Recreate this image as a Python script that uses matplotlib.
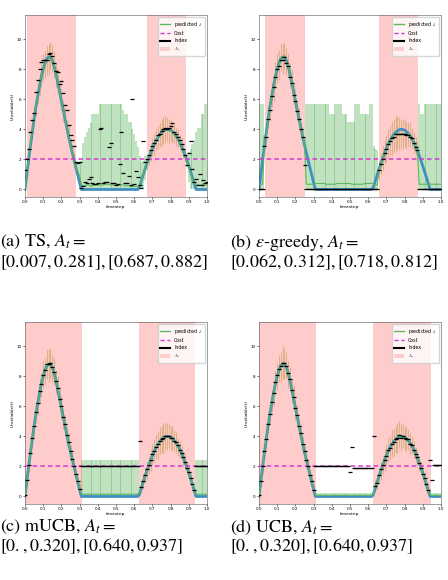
import numpy as np
import matplotlib
matplotlib.use("Agg")
import matplotlib.pyplot as plt
from matplotlib.lines import Line2D
from matplotlib.patches import Patch

plt.rcParams['mathtext.fontset'] = 'stix'

timesteps = np.linspace(0, 1, 101)
cost = 2.0

true_lambda = [0.0, 1.0, 2.0, 2.9, 3.8, 4.7, 5.5, 6.2, 6.9, 7.5,
               8.0, 8.4, 8.7, 8.8, 8.8, 8.6, 8.2, 7.7, 7.1, 6.5,
               5.9, 5.3, 4.7, 4.1, 3.5, 2.95, 2.45, 1.95, 1.45, 0.95,
               0.45, 0, 0, 0, 0, 0, 0, 0, 0, 0,
               0, 0, 0, 0, 0, 0, 0, 0, 0, 0,
               0, 0, 0, 0, 0, 0, 0, 0, 0, 0,
               0, 0, 0, 0.2, 0.6, 0.99, 1.37, 1.74, 2.08, 2.41,
               2.72, 3.0, 3.25, 3.46, 3.65, 3.79, 3.9, 3.97, 4.0, 3.99,
               3.94, 3.85, 3.72, 3.56, 3.36, 3.13, 2.86, 2.57, 2.26, 1.92,
               1.56, 1.18, 0.79, 0.4, 0, 0, 0, 0, 0, 0,
               0]

# (a) TS
spans_a = [(0.01, 0.281), (0.673, 0.882)]
pred_a = [0.1, 1.2, 2.1, 3.0, 3.9, 4.9, 5.6, 6.4, 7.0, 7.6,
          8.1, 8.3, 8.6, 8.7, 8.9, 8.7, 8.3, 7.6, 7.2, 6.4,
          6.0, 5.2, 4.8, 4.0, 3.6, 2.9, 2.5, 1.9, 1.5, 1.2,
          0.9, 0.3, 0.25, 0.25, 0.3, 0.3, 0.25, 0.25, 0.3, 0.3,
          0.3, 0.3, 0.3, 0.3, 0.35, 0.35, 0.35, 0.3, 0.3, 0.3,
          0.3, 0.3, 0.3, 0.3, 0.3, 0.25, 0.25, 0.25, 0.2, 0.2,
          0.2, 0.2, 0.2, 0.25, 0.6, 1.0, 1.4, 1.8, 2.1, 2.5,
          2.8, 3.0, 3.3, 3.5, 3.6, 3.8, 3.9, 4.0, 4.0, 3.9,
          3.9, 3.8, 3.7, 3.5, 3.4, 3.1, 2.9, 2.6, 2.3, 1.9,
          1.5, 1.1, 0.7, 0.4, 0.3, 0.3, 0.3, 0.3, 0.3, 0.3,
          0.3]
err_a = [0.3, 0.4, 0.5, 0.5, 0.6, 0.6, 0.7, 0.7, 0.8, 0.8,
         0.9, 0.9, 1.0, 1.0, 0.9, 0.9, 0.9, 0.8, 0.8, 0.8,
         0.7, 0.7, 0.6, 0.6, 0.6, 0.5, 0.5, 0.5, 0.4, 0.6,
         0.7, 1.6, 2.85, 3.25, 3.5, 3.8, 4.15, 4.75, 4.7, 4.7,
         4.7, 5.4, 5.4, 5.4, 5.35, 5.35, 5.35, 5.4, 5.4, 5.4,
         5.4, 5.4, 5.4, 5.4, 5.0, 4.75, 4.75, 4.25, 4.3, 3.8,
         3.5, 3.0, 2.6, 1.95, 1.2, 0.9, 0.8, 0.5, 0.5, 0.6,
         0.6, 0.7, 0.7, 0.8, 0.8, 0.9, 0.9, 0.9, 0.8, 0.8,
         0.7, 0.7, 0.6, 0.6, 0.6, 0.5, 0.5, 0.5, 0.4, 0.4,
         1.0, 1.6, 2.3, 2.9, 3.5, 3.8, 3.8, 4.7, 4.7, 5.4,
         5.4]
index_a = [1.3, 2.0, 2.7, 3.8, 4.6, 5.1, 6.5, 7.3, 8.0, 8.5,
           8.6, 8.6, 8.6, 9.0, 9.1, 8.9, 8.4, 7.9, 7.8, 7.0,
           7.2, 6.4, 5.6, 5.3, 4.3, 3.6, 3.3, 2.9, 1.8, 1.75,
           1.8, 0.1, 0.2, 0.5, 0.45, 0.7, 0.8, 0.4, 0.35, 0.35,
           0.45, 4.05, 4.1, 0.4, 0.5, 0.5, 2.8, 3.1, 0.45, 0.4,
           0.3, 0.35, 1.7, 3.8, 1.1, 0.45, 0.4, 0.9, 0.3, 6.0,
           0.35, 1.2, 0.8, 0.3, 0.1, 3.25, 1.8, 2.0, 2.3, 2.6,
           2.9, 3.1, 3.3, 3.6, 3.7, 3.9, 4.0, 4.1, 4.0, 4.1,
           4.2, 4.4, 3.8, 3.7, 3.5, 3.3, 3.0, 2.7, 2.3, 1.6,
           2.45, 3.25, 1.35, 0.5, 0.67, 0.3, 1.0, 0.33, 0.6, 0.4,
           0.5]

# (b) epsilon-greedy
spans_b = [(0.031, 0.253), (0.657, 0.875)]
pred_b = [0.35, 0.35, 0.35, 3.0, 3.6, 4.8, 5.4, 6.3, 6.8, 7.6,
          8.1, 8.3, 8.8, 8.7, 8.9, 8.5, 8.3, 7.6, 7.2, 6.4,
          6.0, 5.2, 4.8, 4.0, 3.6, 2.9, 0.35, 0.35, 0.35, 0.35,
          0.35, 0.4, 0.4, 0.4, 0.4, 0.4, 0.4, 0.35, 0.35, 0.35,
          0.35, 0.35, 0.35, 0.4, 0.4, 0.4, 0.4, 0.4, 0.4, 0.4,
          0.4, 0.35, 0.35, 0.35, 0.35, 0.35, 0.35, 0.35, 0.4, 0.4,
          0.4, 0.4, 0.4, 0.35, 0.3, 0.3, 1.3, 1.7, 2.1, 2.5,
          2.7, 3.0, 3.3, 3.4, 3.6, 3.7, 3.8, 3.7, 3.7, 3.7,
          3.7, 3.6, 3.7, 3.6, 3.4, 3.1, 2.9, 2.6, 0.35, 0.35,
          0.35, 0.35, 0.35, 0.35, 0.35, 0.35, 0.35, 0.35, 0.35, 0.35,
          0.35]
err_b = [5.35, 5.35, 5.35, 0.6, 0.7, 0.7, 0.8, 0.8, 0.9, 0.9,
         1.0, 1.0, 0.9, 1.0, 0.9, 0.9, 0.8, 0.8, 0.8, 0.7,
         0.7, 0.6, 0.6, 0.5, 0.5, 0.5, 5.35, 5.35, 5.35, 5.35,
         5.35, 5.3, 5.3, 5.3, 5.3, 5.3, 5.3, 5.35, 5.35, 4.65,
         4.65, 4.65, 5.35, 5.3, 5.3, 5.3, 4.6, 4.6, 4.6, 4.1,
         4.1, 4.15, 4.15, 5.35, 5.35, 5.35, 4.65, 4.65, 4.6, 4.6,
         4.6, 5.3, 5.3, 2.55, 2.4, 2.3, 0.6, 0.7, 0.8, 0.8,
         0.9, 1.0, 1.0, 1.1, 1.1, 1.2, 1.1, 1.1, 1.0, 1.0,
         0.9, 0.9, 0.8, 0.8, 0.7, 0.7, 0.6, 0.6, 5.35, 4.65,
         4.65, 5.35, 5.35, 5.35, 5.35, 5.35, 5.35, 5.35, 5.35, 5.35,
         5.35]
index_b = [0, 0, 0, 2.9, 3.5, 4.7, 5.3, 6.2, 6.8, 7.5,
           8.0, 8.2, 8.6, 8.6, 8.8, 8.4, 8.2, 7.5, 7.1, 6.3,
           5.9, 5.2, 4.7, 4.0, 3.5, 1.6, 0, 0, 0, 0,
           0, 0, 0, 0, 0, 0, 0, 0, 0, 0,
           0, 0, 0, 0, 0, 0, 0, 0, 0, 0,
           0, 0, 0, 0, 0, 0, 0, 0, 0, 0,
           0, 0, 0, 0, 0, 0, 1.3, 1.7, 2.0, 2.4,
           2.7, 3.0, 3.2, 3.4, 3.5, 3.7, 3.7, 3.7, 3.7, 3.7,
           3.7, 3.6, 3.6, 3.5, 3.4, 3.1, 2.8, 2.6, 0, 0,
           0, 0, 0, 0, 0, 0, 0, 0, 0, 0,
           0]

# (c) mUCB
spans_c = [(0.0, 0.312), (0.624, 0.936)]
pred_c = [0.1, 1.1, 2.1, 2.8, 3.9, 4.6, 5.6, 6.1, 7.0, 7.4,
          8.1, 8.3, 8.8, 8.7, 8.9, 8.5, 8.3, 7.6, 7.2, 6.4,
          6.0, 5.2, 4.8, 4.0, 3.6, 2.9, 2.5, 1.9, 1.5, 0.9,
          0.5, 0.15, 0.15, 0.15, 0.15, 0.15, 0.15, 0.15, 0.15, 0.15,
          0.15, 0.15, 0.15, 0.15, 0.15, 0.15, 0.15, 0.15, 0.15, 0.15,
          0.15, 0.15, 0.15, 0.15, 0.15, 0.15, 0.15, 0.15, 0.15, 0.15,
          0.15, 0.15, 0.15, 0.3, 0.6, 1.0, 1.4, 1.7, 2.1, 2.4,
          2.8, 3.0, 3.3, 3.4, 3.7, 3.8, 3.9, 4.0, 4.0, 4.0,
          3.9, 3.9, 3.7, 3.6, 3.3, 3.1, 2.9, 2.5, 2.3, 1.9,
          1.6, 1.2, 0.8, 0.4, 0.15, 0.15, 0.15, 0.15, 0.15, 0.15,
          0.15]
err_c = [0.3, 0.4, 0.5, 0.5, 0.6, 0.6, 0.7, 0.7, 0.8, 0.8,
         0.9, 0.9, 1.0, 1.1, 1.0, 0.9, 0.9, 0.8, 0.8, 0.8,
         0.7, 0.7, 0.6, 0.6, 0.6, 0.5, 0.5, 0.5, 0.4, 0.4,
         0.4, 2.25, 2.25, 2.25, 2.25, 2.25, 2.25, 2.25, 2.25, 2.25,
         2.25, 2.25, 2.25, 2.25, 2.25, 2.25, 2.25, 2.25, 2.25, 2.25,
         2.25, 2.25, 2.25, 2.25, 2.25, 2.25, 2.25, 2.25, 2.25, 2.25,
         2.25, 2.25, 2.25, 0.3, 0.4, 0.5, 0.5, 0.6, 0.6, 0.7,
         0.7, 0.8, 0.8, 0.9, 0.9, 0.9, 1.0, 0.9, 0.9, 0.8,
         0.8, 0.8, 0.7, 0.7, 0.6, 0.6, 0.5, 0.5, 0.5, 0.4,
         0.4, 0.4, 0.3, 0.3, 2.25, 2.25, 2.25, 2.25, 2.25, 2.25,
         2.25]
index_c = [0.1, 1.1, 2.1, 2.9, 3.9, 4.7, 5.6, 6.2, 7.0, 7.5,
           8.1, 8.4, 8.8, 8.8, 8.9, 8.6, 8.3, 7.7, 7.2, 6.5,
           6.0, 5.3, 4.8, 4.1, 3.6, 3.0, 2.5, 2.0, 1.5, 1.0,
           0.5, 2.0, 2.0, 2.0, 2.0, 2.0, 2.0, 2.0, 2.0, 2.0,
           2.0, 2.0, 2.0, 2.0, 2.0, 2.0, 2.0, 2.0, 2.0, 2.0,
           2.0, 2.0, 2.0, 2.0, 2.0, 2.0, 2.0, 2.0, 2.0, 2.0,
           2.0, 2.0, 2.0, 3.7, 0.6, 1.0, 1.4, 1.8, 2.1, 2.4,
           2.8, 3.0, 3.3, 3.5, 3.7, 3.8, 3.9, 4.0, 4.0, 4.0,
           3.9, 3.9, 3.7, 3.6, 3.4, 3.1, 2.9, 2.6, 2.3, 1.9,
           1.6, 1.2, 0.8, 0.4, 2.0, 2.0, 2.0, 2.0, 2.0, 2.0,
           2.0]

# (d) UCB
spans_d = [(0.0, 0.312), (0.624, 0.945)]
pred_d = [0.1, 1.0, 2.0, 3.0, 3.8, 4.8, 5.5, 6.3, 6.8, 7.6,
          8.0, 8.5, 8.6, 8.9, 8.8, 8.7, 8.1, 7.8, 7.0, 6.6,
          5.8, 5.4, 4.6, 4.2, 3.4, 3.0, 2.4, 2.0, 1.4, 1.0,
          0.4, 0.08, 0.08, 0.08, 0.08, 0.08, 0.08, 0.08, 0.08, 0.08,
          0.08, 0.08, 0.08, 0.08, 0.08, 0.08, 0.08, 0.08, 0.08, 0.08,
          0.08, 0.08, 0.08, 0.08, 0.08, 0.08, 0.08, 0.08, 0.08, 0.08,
          0.08, 0.08, 0.08, 0.2, 0.7, 0.9, 1.4, 1.7, 2.1, 2.4,
          2.7, 3.1, 3.2, 3.5, 3.6, 3.8, 3.9, 4.1, 3.9, 4.0,
          3.9, 3.8, 3.8, 3.5, 3.4, 3.1, 2.8, 2.6, 2.2, 1.9,
          1.5, 1.2, 0.8, 0.4, 0.1, 0.08, 0.08, 0.08, 0.08, 0.08,
          0.08]
err_d = [0.3, 0.4, 0.5, 0.5, 0.6, 0.6, 0.7, 0.7, 0.8, 0.8,
         0.9, 0.9, 1.0, 1.1, 1.0, 0.9, 0.9, 0.8, 0.8, 0.8,
         0.7, 0.7, 0.6, 0.6, 0.6, 0.5, 0.5, 0.5, 0.4, 0.4,
         0.4, 0.15, 0.15, 0.15, 0.15, 0.15, 0.15, 0.15, 0.15, 0.15,
         0.15, 0.15, 0.15, 0.15, 0.15, 0.15, 0.15, 0.15, 0.15, 0.15,
         0.15, 0.15, 0.15, 0.15, 0.15, 0.15, 0.15, 0.15, 0.15, 0.15,
         0.15, 0.15, 0.15, 0.3, 0.4, 0.5, 0.5, 0.6, 0.6, 0.7,
         0.7, 0.8, 0.8, 0.9, 0.9, 0.9, 1.0, 0.9, 0.9, 0.8,
         0.8, 0.8, 0.7, 0.7, 0.6, 0.6, 0.5, 0.5, 0.5, 0.4,
         0.4, 0.4, 0.3, 0.3, 0.3, 0.15, 0.15, 0.15, 0.15, 0.15,
         0.15]
index_d = [0.1, 1.0, 2.0, 3.0, 3.8, 4.8, 5.5, 6.3, 6.9, 7.6,
           8.1, 8.5, 8.7, 8.9, 8.9, 8.7, 8.2, 7.8, 7.1, 6.6,
           5.9, 5.4, 4.7, 4.2, 3.5, 3.0, 2.4, 2.0, 1.4, 1.0,
           0.4, 2.0, 2.0, 2.0, 2.0, 2.0, 2.0, 2.0, 2.0, 2.0,
           2.0, 2.0, 2.0, 2.0, 2.0, 2.0, 2.0, 2.0, 2.0, 2.0,
           1.62, 3.26, 1.9, 1.9, 1.9, 1.9, 1.9, 1.9, 1.9, 1.9,
           1.9, 1.9, 1.9, 4.05, 0.7, 0.9, 1.4, 1.8, 2.1, 2.4,
           2.7, 3.1, 3.2, 3.5, 3.6, 3.8, 3.9, 4.1, 3.9, 4.0,
           3.9, 3.8, 3.8, 3.5, 3.4, 3.1, 2.8, 2.6, 2.2, 1.9,
           1.5, 1.2, 0.8, 0.4, 2.4, 1.08, 2.07, 2.07, 2.07, 2.07,
           2.07]

captions = [("(a) TS, $A_t =$", "$[0.007, 0.281], [0.687, 0.882]$"),
            ("(b) $\\epsilon$-greedy, $A_t =$", "$[0.062, 0.312], [0.718, 0.812]$"),
            ("(c) mUCB, $A_t =$", "$[0., 0.320], [0.640, 0.937]$"),
            ("(d) UCB, $A_t =$", "$[0., 0.320], [0.640, 0.937]$")]

W, H = 448, 580
fig = plt.figure(figsize=(W / 100, H / 100), dpi=100)

panels = [
    (pred_a, err_a, index_a, spans_a, (25, 15)),
    (pred_b, err_b, index_b, spans_b, (259, 15)),
    (pred_c, err_c, index_c, spans_c, (25, 322)),
    (pred_d, err_d, index_d, spans_d, (259, 322)),
]
aw, ah = 182, 182

t = timesteps
truth = np.array(true_lambda)
for (pred, err, idx, spans, (lx, ty)) in panels:
    pred = np.array(pred); err = np.array(err); idx = np.array(idx)
    ax = fig.add_axes([lx / W, 1 - (ty + ah) / H, aw / W, ah / H])
    inside = np.zeros(len(t), bool)
    for a, b in spans:
        ax.axvspan(a, b, color='#ffcccc', lw=0, zorder=0)
        inside |= (t >= a - 1e-9) & (t <= b + 1e-9)
    lower = np.minimum(err, pred)
    yerr = np.vstack([lower, err])
    ax.errorbar(t[~inside], pred[~inside], yerr=yerr[:, ~inside], fmt='none',
                ecolor='#2ca02c', alpha=0.33, elinewidth=1.3, zorder=1)
    ax.errorbar(t[inside], pred[inside], yerr=yerr[:, inside], fmt='none',
                ecolor='#b8913a', alpha=0.45, elinewidth=0.8, zorder=1)
    ax.plot(t, truth, color='#3f8fc0', lw=2.0, zorder=2)
    ax.plot(t, pred, color='#5cb85c', lw=0.8, zorder=3)
    ax.axhline(cost, color='#d03ad0', ls=(0, (3, 2)), lw=1.1, zorder=3)
    ax.plot(t, idx, ls='none', marker='_', color='k', ms=2.6, mew=0.9, zorder=4)
    ax.set_xlim(0, 1)
    ax.set_ylim(-0.5, 11.6)
    ax.set_xticks(np.round(np.arange(0, 1.01, 0.1), 1))
    ax.set_yticks([0, 2, 4, 6, 8, 10])
    ax.tick_params(labelsize=3, length=1.5, width=0.4, pad=1)
    for s in ax.spines.values():
        s.set_linewidth(0.4)
        s.set_color('#555555')
    ax.set_xlabel('timestep', fontsize=3.2, labelpad=0.5)
    ax.set_ylabel('Unreliable(t)', fontsize=3.2, labelpad=1.5)
    handles = [Line2D([], [], color='#5cb85c', lw=1),
               Line2D([], [], color='#d03ad0', lw=1, ls=(0, (3, 2))),
               Line2D([], [], color='k', lw=1.5),
               Patch(facecolor='#ffcccc', edgecolor='none')]
    ax.legend(handles, ['predicted $\\lambda$', 'Cost', 'Index', '$A_t$'],
              loc='upper right', fontsize=3.4, handlelength=2.2, borderpad=0.5,
              labelspacing=0.5, framealpha=0.8, edgecolor='#cccccc')

cap_pos = [(0, 242, 262), (230, 242, 262), (0, 527, 546), (230, 527, 546)]
for (l1, l2), (x, y1, y2) in zip(captions, cap_pos):
    fig.text(x / W, 1 - y1 / H, l1, fontsize=13, family='STIXGeneral', va='center', ha='left')
    fig.text(x / W, 1 - y2 / H, l2, fontsize=13, family='STIXGeneral', va='center', ha='left')

fig.savefig('out.png', dpi=100)
